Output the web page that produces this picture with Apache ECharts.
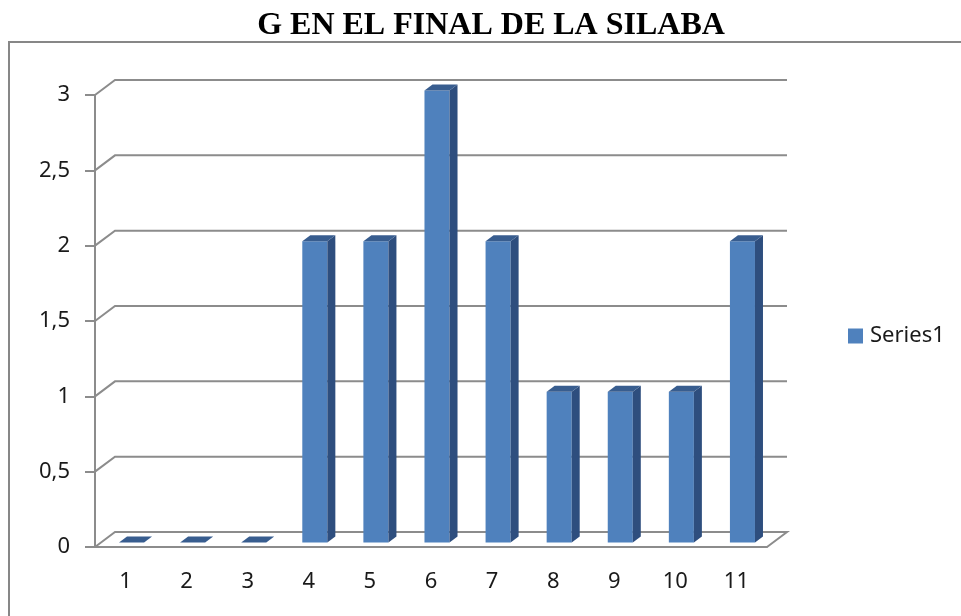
<!DOCTYPE html>
<html>
<head>
<meta charset="utf-8">
<script src="https://cdn.jsdelivr.net/npm/echarts@6/dist/echarts.min.js"></script>
<style>
  html, body { margin: 0; padding: 0; background: #fff; }
  #chart { width: 961px; height: 616px; }
</style>
</head>
<body>
<div id="chart"></div>
<script>
const categories = ['1', '2', '3', '4', '5', '6', '7', '8', '9', '10', '11']
const values = [0, 0, 0, 2, 2, 3, 2, 1, 1, 1, 2]
const yTicks = [0, 0.5, 1, 1.5, 2, 2.5, 3]

// 3D depth of the plot box (front plane -> back wall)
const DX = 20
const DY = 15
const F1 = 0.3   // bar front face depth
const F2 = 0.7   // bar back face depth

const chart = echarts.init(document.getElementById('chart'))

function wallItem(params, api) {
  const cs = params.coordSys
  const y = api.coord([0, api.value(1)])[1]
  const x0 = cs.x
  const x1 = cs.x + cs.width
  const pts = [[x0, y], [x0 + DX, y - DY], [x1 + DX, y - DY]]
  if (api.value(1) === 0) pts.push([x1, y])
  return {
    type: 'polyline',
    shape: { points: pts },
    style: { stroke: '#8c8c8c', lineWidth: 2, fill: null }
  }
}

function barItem(params, api) {
  const i = api.value(0)
  const v = api.value(1)
  const top = api.coord([i, v])
  const base = api.coord([i, 0])
  const w = api.size([1, 0])[0] * 0.41
  const xl = top[0] - w / 2
  const xr = top[0] + w / 2
  const ox1 = DX * F1, oy1 = DY * F1
  const ox2 = DX * F2, oy2 = DY * F2
  const yt = top[1], yb = base[1]
  const children = []
  if (v > 0) {
    children.push({
      type: 'polygon',
      shape: { points: [[xl + ox1, yt - oy1], [xr + ox1, yt - oy1], [xr + ox1, yb - oy1], [xl + ox1, yb - oy1]] },
      style: { fill: '#4f81bd' }
    })
    children.push({
      type: 'polygon',
      shape: { points: [[xr + ox1, yt - oy1], [xr + ox2, yt - oy2], [xr + ox2, yb - oy2], [xr + ox1, yb - oy1]] },
      style: { fill: '#2e4e7e' }
    })
  }
  children.push({
    type: 'polygon',
    shape: { points: [[xl + ox1, yt - oy1], [xl + ox2, yt - oy2], [xr + ox2, yt - oy2], [xr + ox1, yt - oy1]] },
    style: { fill: '#385d8f' }
  })
  return { type: 'group', children }
}

const option = {
  animation: false,
  title: {
    text: 'G EN EL FINAL DE LA SILABA',
    left: 486,
    textAlign: 'center',
    top: 5,
    textStyle: { fontFamily: 'Liberation Serif', fontWeight: 'bold', fontSize: 32, color: '#000' }
  },
  graphic: [{
    type: 'rect',
    shape: { x: 9, y: 42, width: 980, height: 600 },
    style: { fill: null, stroke: '#878787', lineWidth: 2 },
    z: -10
  }],
  legend: {
    data: ['Series1'],
    left: 843,
    top: 320,
    icon: 'rect',
    itemWidth: 15,
    itemHeight: 15,
    itemGap: 6,
    textStyle: { fontFamily: 'Noto Sans', fontSize: 22, color: '#1a1a1a', padding: [0, 0, 0, 2] }
  },
  grid: { left: 95, top: 95, right: 194, bottom: 69 },
  xAxis: {
    type: 'category',
    data: categories,
    axisLine: { lineStyle: { color: '#8c8c8c', width: 2 } },
    axisTick: { length: 10, lineStyle: { color: '#8c8c8c', width: 2 } },
    axisLabel: { margin: 24, fontFamily: 'Noto Sans', fontSize: 22, color: '#1a1a1a' },
    splitLine: { show: false }
  },
  yAxis: {
    type: 'value',
    min: 0,
    max: 3,
    interval: 0.5,
    axisLine: { show: true, lineStyle: { color: '#8c8c8c', width: 2 } },
    axisTick: { show: true, length: 10, lineStyle: { color: '#8c8c8c', width: 2 } },
    axisLabel: {
      margin: 25,
      fontFamily: 'Noto Sans',
      fontSize: 22,
      color: '#1a1a1a',
      formatter: v => String(v).replace('.', ',')
    },
    splitLine: { show: false }
  },
  series: [
    {
      name: 'walls',
      type: 'custom',
      silent: true,
      renderItem: wallItem,
      data: yTicks.map(t => [0, t]),
      z: 1
    },
    {
      name: 'Series1',
      type: 'custom',
      renderItem: barItem,
      itemStyle: { color: '#4f81bd' },
      data: values.map((v, i) => [i, v]),
      z: 3
    }
  ]
}

chart.setOption(option)
</script>
</body>
</html>
